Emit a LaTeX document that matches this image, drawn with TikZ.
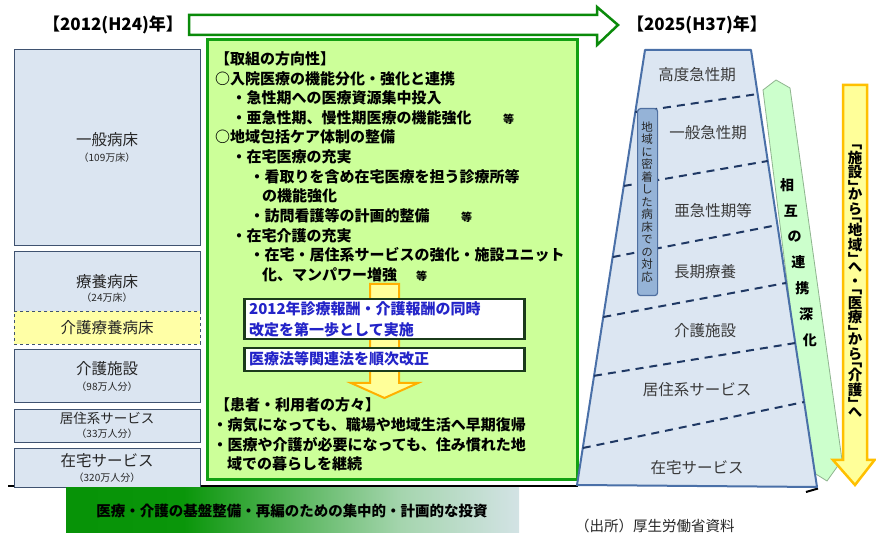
\documentclass[tikz,border=0pt]{standalone}
\usepackage{fontspec}
\setmainfont{Noto Sans CJK JP}
\newfontfamily\vjp[RawFeature=+vert]{Noto Sans CJK JP}
\usetikzlibrary{calc}
\definecolor{boxfill}{HTML}{DBE5F1}
\definecolor{boxdraw}{HTML}{3F5270}
\definecolor{yelbox}{HTML}{FFFFA6}
\definecolor{grfill}{HTML}{CCFF99}
\definecolor{grdraw}{HTML}{12A012}
\definecolor{arrgreen}{HTML}{0A8A0A}
\definecolor{orfill}{HTML}{FFFF99}
\definecolor{ordraw}{HTML}{FFB000}
\definecolor{barfill}{HTML}{95B3D7}
\definecolor{bardraw}{HTML}{4F6FA0}
\definecolor{trfill}{HTML}{DCE6F2}
\definecolor{trdraw}{HTML}{4A70A8}
\definecolor{dashcol}{HTML}{1F3864}
\definecolor{bandfill}{HTML}{CCFFCC}
\definecolor{banddraw}{HTML}{8FB58F}
\definecolor{yafill}{HTML}{FFFF99}
\definecolor{yadraw}{HTML}{FFC000}
\definecolor{bluetxt}{HTML}{2323C8}
\definecolor{darktxt}{HTML}{262626}
\definecolor{trtxt}{HTML}{3A3A3A}
\definecolor{gA}{HTML}{008C00}
\definecolor{gB}{HTML}{0A960A}
\definecolor{gC}{HTML}{A5D5AE}
\definecolor{gD}{HTML}{DDE6F1}
\definecolor{gE}{HTML}{C3D1EC}
\definecolor{boxedge}{HTML}{1B3B1B}
\pgfdeclarehorizontalshading{bargrad}{100bp}{color(0bp)=(gA); color(38bp)=(gB); color(62bp)=(gC); color(78bp)=(gD); color(100bp)=(gE)}
\newcommand\fsz[1]{\fontsize{#1}{#1}\selectfont}
\begin{document}
\begin{tikzpicture}[x=1pt,y=-1pt,
  lbox/.style={draw=boxdraw, fill=boxfill, line width=0.8pt, anchor=north west, inner sep=0},
  ltxt/.style={inner sep=0, text=darktxt, font=\fsz{15.5}},
  lsmall/.style={inner sep=0, text=darktxt, font=\fsz{10}},
  gtxt/.style={anchor=west, inner sep=0, font=\bfseries\fsz{15}},
  gsmall/.style={anchor=west, inner sep=0, font=\bfseries\fsz{11}},
  btxt/.style={anchor=west, inner sep=0, text=bluetxt, font=\bfseries\fsz{15}},
  wbox/.style={draw=boxedge, fill=white, line width=2.5pt, anchor=north west, inner sep=0},
  trlab/.style={inner sep=0, text=trtxt, font=\fsz{15.5}},
  dline/.style={draw=dashcol, line width=2pt, dash pattern=on 8pt off 6pt},
  vtxt/.style={inner sep=0, font=\vjp\fsz{11.5}, text=darktxt},
  ytxt/.style={inner sep=0, align=center, font=\vjp\bfseries\fsz{14.5}},
  rtxt/.style={inner sep=0, font=\bfseries\fsz{14}},
  title/.style={inner sep=0, font=\bfseries\fsz{17}}]
\useasboundingbox (0,0) rectangle (876,534);
\fill[white] (0,0) rectangle (876,534);

% titles
\node[title] (t2012) at (113,25) {【2012(H24)年】};
\node[title] (t2025) at (697,25) {【2025(H37)年】};

% top arrow
\draw[draw=arrgreen, fill=white, line width=2.5pt, line join=miter]
  (189,15) -- (597,15) -- (597,7) -- (618,25) -- (597,45) -- (597,35) -- (189,35) -- cycle;

% baseline
\draw[black, line width=2pt] (8,486.5) -- (578,486.5);
\draw[black, line width=2pt] (806,492) -- (818,488.5);

% left column
\node[lbox, minimum width=186, minimum height=196] (ippan) at (14,49) {};
\node[ltxt] (ippanT) at (107,140) {一般病床};
\node[lsmall] (ippanS) at (107,158) {（109万床）};
\node[lbox, minimum width=186, minimum height=60] (ryoyo) at (14,251) {};
\node[ltxt] (ryoyoT) at (107,282) {療養病床};
\node[lsmall] (ryoyoS) at (107,298) {（24万床）};
\node[lbox, draw=boxdraw, fill=yelbox, dashed, minimum width=186, minimum height=33] (kryoyo) at (14,311) {};
\node[ltxt] (kryoyoT) at (107,328) {介護療養病床};
\node[lbox, minimum width=186, minimum height=53] (kshisetsu) at (14,349) {};
\node[ltxt] (kshisetsuT) at (107,369) {介護施設};
\node[lsmall] (kshisetsuS) at (107,387) {（98万人分）};
\node[lbox, minimum width=186, minimum height=33] (kyoju) at (14,409) {};
\node[ltxt, font=\fsz{13.5}] (kyojuT) at (107,418) {居住系サービス};
\node[lsmall] (kyojuS) at (107,434) {（33万人分）};
\node[lbox, minimum width=186, minimum height=39] (zaitaku) at (14,448) {};
\node[ltxt] (zaitakuT) at (107,461) {在宅サービス};
\node[lsmall] (zaitakuS) at (107,478) {（320万人分）};

% green box
\node[draw=grdraw, fill=grfill, line width=3pt, anchor=north west, inner sep=0, minimum width=370, minimum height=440] (gbox) at (206,38) {};
\node[gtxt] (g1) at (215,59) {【取組の方向性】};
\node[gtxt] (g2) at (215,79) {○入院医療の機能分化・強化と連携};
\node[gtxt] (g3) at (231.5,98) {・急性期への医療資源集中投入};
\node[gtxt] (g4) at (231.5,118) {・亜急性期、慢性期医療の機能強化};
\node[gsmall] (g4e) at (503,119) {等};
\node[gtxt] (g5) at (215,137) {○地域包括ケア体制の整備};
\node[gtxt] (g6) at (231.5,157) {・在宅医療の充実};
\node[gtxt] (g7) at (249.5,177) {・看取りを含め在宅医療を担う診療所等};
\node[gtxt] (g8) at (262,196) {の機能強化};
\node[gtxt] (g9) at (249.5,216) {・訪問看護等の計画的整備};
\node[gsmall] (g9e) at (461,217) {等};
\node[gtxt] (g10) at (231.5,236) {・在宅介護の充実};
\node[gtxt] (g11) at (249.5,255) {・在宅・居住系サービスの強化・施設ユニット};
\node[gtxt] (g12) at (262,275) {化、マンパワー増強};
\node[gsmall] (g12e) at (416,276) {等};

% orange arrow
\draw[draw=ordraw, fill=orfill, line width=2pt, line join=miter]
  (370,284) -- (399,284) -- (399,383) -- (418,383) -- (384.5,398) -- (351,383) -- (370,383) -- cycle;

% white boxes
\node[wbox, minimum width=280, minimum height=40] (wb1) at (243,298) {};
\node[btxt] (wb1a) at (249,309) {2012年診療報酬・介護報酬の同時};
\node[btxt] (wb1b) at (249,330) {改定を第一歩として実施};
\node[wbox, minimum width=280, minimum height=23] (wb2) at (243,347) {};
\node[btxt] (wb2a) at (249,358.5) {医療法等関連法を順次改正};

\node[gtxt] (p1) at (215,405) {【患者・利用者の方々】};
\node[gtxt] (p2) at (212.5,425) {・病気になっても、職場や地域生活へ早期復帰};
\node[gtxt] (p3) at (212.5,445) {・医療や介護が必要になっても、住み慣れた地};
\node[gtxt] (p4) at (227,464) {域での暮らしを継続};

% bottom gradient bar
\path[shading=bargrad] (66,487.5) rectangle (519,532);
\node[inner sep=0, font=\bfseries\fsz{14.5}] (bottomT) at (292,511) {医療・介護の基盤整備・再編のための集中的・計画的な投資};
\node[inner sep=0, anchor=west, font=\fsz{14.5}, text=darktxt] (source) at (575,526) {（出所）厚生労働省資料};

% green band
\draw[draw=banddraw, fill=bandfill, line width=0.8pt]
  (763,90) -- (776,80) -- (790,88) -- (842,460) -- (827,481) -- (811,471) -- cycle;
\foreach \c [count=\i from 0] in {相,互,の,連,携,深,化}
  \node[rtxt] (ren\i) at ({787+3.83*\i},{185+25.83*\i}) {\c};

% trapezoid
\coordinate (TL) at (645,50);
\coordinate (TR) at (751,50);
\coordinate (BR) at (817,487);
\coordinate (BL) at (577,485);
\draw[draw=trdraw, fill=trfill, line width=2pt, line join=round] (TL) -- (TR) -- (BR) -- (BL) -- cycle;
\draw[dline] ($(TL)!0.1425!(BL)$) -- ($(TR)!0.1007!(BR)$);
\draw[dline] ($(TL)!0.3126!(BL)$) -- ($(TR)!0.254!(BR)$);
\draw[dline] ($(TL)!0.476!(BL)$) -- ($(TR)!0.4005!(BR)$);
\draw[dline] ($(TL)!0.6138!(BL)$) -- ($(TR)!0.533!(BR)$);
\draw[dline] ($(TL)!0.749!(BL)$) -- ($(TR)!0.6705!(BR)$);
\draw[dline] ($(TL)!0.915!(BL)$) -- ($(TR)!0.8055!(BR)$);
\node[trlab] (tr1) at (697,75) {高度急性期};
\node[trlab] (tr2) at (708,133) {一般急性期};
\node[trlab] (tr3) at (713,211) {亜急性期等};
\node[trlab] (tr4) at (705,272) {長期療養};
\node[trlab] (tr5) at (705,331) {介護施設};
\node[trlab] (tr6) at (697,390) {居住系サービス};
\node[trlab] (tr7) at (697,468) {在宅サービス};

% blue bar
\node[draw=bardraw, fill=barfill, line width=1.2pt, rounded corners=3pt, anchor=north west, inner sep=0, minimum width=20, minimum height=187] (bar) at (637,108) {};
\foreach \c [count=\i from 0] in {地,域,に,密,着,し,た,病,床,で,の,対,応}
  \node[vtxt] (bt\i) at (647,{127+12.5*\i}) {\c};

% yellow arrow
\draw[draw=yadraw, fill=yafill, line width=2.5pt, line join=miter]
  (843,85) -- (867,85) -- (867,460) -- (874.5,460) -- (855,485) -- (833,460) -- (843,460) -- cycle;
\node[ytxt, anchor=north] (ytext) at (855,145) {「\\施\\設\\」\\[-7.25pt]か\\ら\\[-7.25pt]「\\地\\域\\」\\[-7.25pt]へ\\・\\[-7.25pt]「\\医\\療\\」\\[-7.25pt]か\\ら\\[-7.25pt]「\\介\\護\\」\\[-7.25pt]へ};
\end{tikzpicture}
\end{document}
